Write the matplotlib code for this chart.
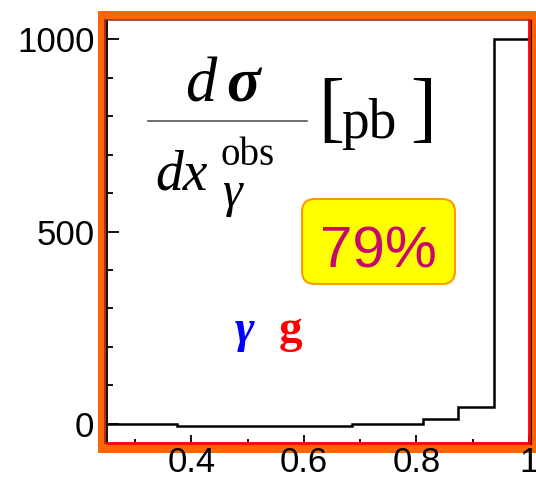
import matplotlib
matplotlib.use("Agg")
import matplotlib.pyplot as plt
from matplotlib.patches import Rectangle, FancyBboxPatch
from matplotlib.transforms import IdentityTransform
from matplotlib.lines import Line2D
from matplotlib.ticker import MultipleLocator, FixedLocator

# Histogram data: x_gamma^obs bin edges and cross-section per bin [pb]
bin_edges = [0.25, 0.374, 0.685, 0.811, 0.874, 0.937, 1.0]
xsec_pb = [0, -6, 0, 13, 44, 1000]

x_major_ticks = [0.4, 0.6, 0.8, 1.0]
x_tick_labels = ["0.4", "0.6", "0.8", "1"]
y_major_ticks = [0, 500, 1000]
y_tick_labels = ["0", "500", "1000"]
fraction_label = "79%"

W, H = 536, 480
fig = plt.figure(figsize=(W / 100, H / 100), dpi=100, facecolor="white")


def P(x, y):
    """Pixel position measured from the top-left corner -> figure fraction."""
    return x / W, 1 - y / H


# orange frame behind the plotting area
frame = Rectangle((98 / W, (H - 453) / H), (545 - 98) / W, (453 - 11) / H,
                  transform=fig.transFigure, facecolor="#FF6600",
                  edgecolor="none", zorder=-1)
fig.patches.append(frame)

ax = fig.add_axes([107 / W, (H - 443) / H, (529 - 107) / W, (443 - 20) / H])
ax.set_facecolor("white")

ax.stairs(xsec_pb, bin_edges, baseline=None, color="black", linewidth=1.8)

ax.set_xlim(0.25, 1.0)
ax.set_ylim(-50, 1050)

ax.xaxis.set_major_locator(FixedLocator(x_major_ticks))
ax.set_xticklabels(x_tick_labels)
ax.xaxis.set_minor_locator(FixedLocator([0.3, 0.5, 0.7, 0.9]))
ax.yaxis.set_major_locator(FixedLocator(y_major_ticks))
ax.set_yticklabels(y_tick_labels)
ax.yaxis.set_minor_locator(MultipleLocator(100))

for lab in ax.get_xticklabels() + ax.get_yticklabels():
    lab.set_fontfamily("Liberation Sans")
    lab.set_fontsize(25)

ax.tick_params(axis="both", which="both", direction="in", color="black",
               top=False, right=False)
ax.tick_params(axis="x", which="major", length=6, width=1.3, pad=2)
ax.tick_params(axis="x", which="minor", length=3, width=1.3)
ax.tick_params(axis="y", which="major", length=8.5, width=1.3, pad=9)
ax.tick_params(axis="y", which="minor", length=4, width=1.3)

ax.spines["bottom"].set_color("#FF0000")
ax.spines["bottom"].set_linewidth(2.0)
ax.spines["right"].set_color("#FF0000")
ax.spines["right"].set_linewidth(2.0)
ax.spines["top"].set_color("#A8302A")
ax.spines["top"].set_linewidth(1.2)
ax.spines["left"].set_color("black")
ax.spines["left"].set_linewidth(1.3)

# thin dark edges next to the frame
fig.add_artist(Line2D([105 / W, 105 / W], [(H - 443) / H, (H - 20) / H],
                      transform=fig.transFigure, color="#A8302A", lw=1.5))
fig.add_artist(Line2D([531 / W, 531 / W], [(H - 444) / H, (H - 20) / H],
                      transform=fig.transFigure, color="black", lw=0.8))

# axis title written as a fraction
serif = "Liberation Serif"
fig.text(*P(185, 101), "d", family=serif, style="italic", size=45,
         ha="left", va="baseline")
fig.text(*P(226, 101), "σ", family=serif, style="italic", weight="bold",
         size=45, ha="left", va="baseline")
fig.add_artist(Line2D([148 / W, 307 / W], [1 - 121 / H, 1 - 121 / H],
                      transform=fig.transFigure, color="#555555", lw=1.2))
fig.text(*P(155, 190), "dx", family=serif, style="italic", size=40,
         ha="left", va="baseline")
fig.text(*P(220, 165), "obs", family=serif, size=28, ha="left",
         va="baseline")
fig.text(*P(222, 206), "γ", family=serif, style="italic", size=36,
         ha="left", va="baseline")
fig.text(*P(318, 133), "[", family=serif, size=56, ha="left", va="baseline")
fig.text(*P(341, 138), "pb", family=serif, size=40, ha="left", va="baseline")
fig.text(*P(410, 133), "]", family=serif, size=56, ha="left", va="baseline")

# highlighted fraction box
box = FancyBboxPatch((302, H - 284), 153, 85,
                     boxstyle="round,pad=0,rounding_size=13",
                     transform=IdentityTransform(), facecolor="#FFFF00",
                     edgecolor="#FF9900", linewidth=1.5)
fig.add_artist(box)
fig.text(*P(378.5, 267), fraction_label, family="Liberation Sans", size=42,
         color="#C8086C", ha="center", va="baseline")

# subprocess label
fig.text(*P(235, 342), "γ", family=serif, style="italic", weight="bold",
         size=34, color="#0000FF", ha="left", va="baseline")
fig.text(*P(279, 342), "g", family=serif, weight="bold", size=34,
         color="#FF0000", ha="left", va="baseline")

fig.savefig("out.png", dpi=100, facecolor="white")
